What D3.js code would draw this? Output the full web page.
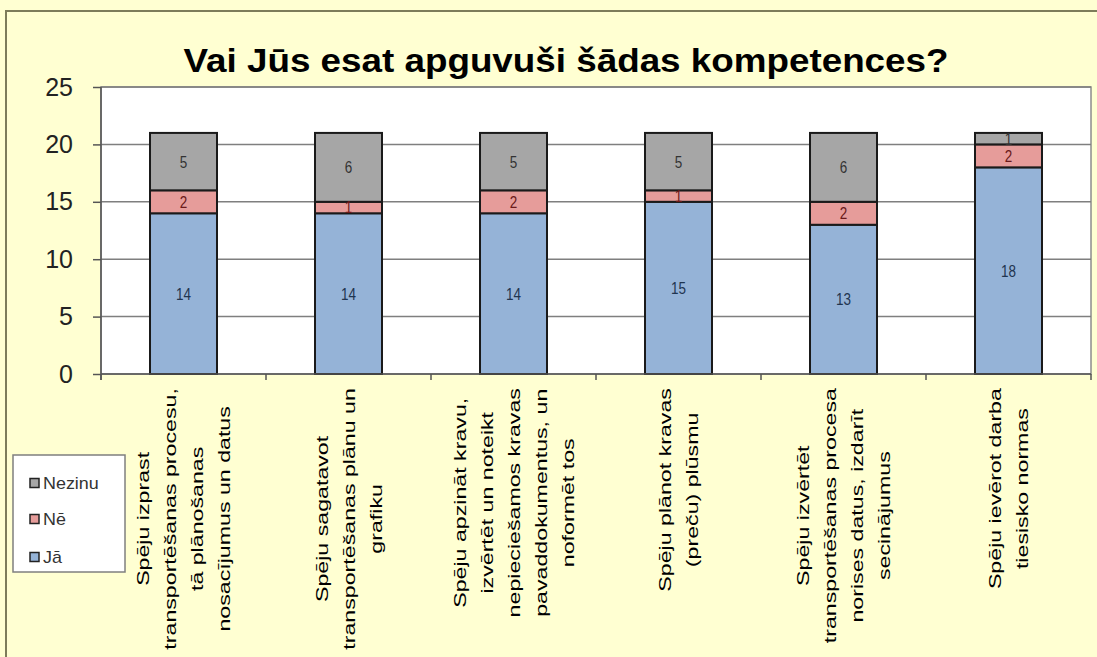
<!DOCTYPE html>
<html>
<head>
<meta charset="utf-8">
<script src="https://cdn.jsdelivr.net/npm/d3@7"></script>
<style>
  body { margin: 0; background: #fff; }
  text { font-family: Arial, "Liberation Sans", sans-serif; }
</style>
</head>
<body>
<div id="container"></div>
<script>
var categories = [
  ["Spēju izprast", "transportēšanas procesu,", "tā plānošanas", "nosacījumus un datus"],
  ["Spēju sagatavot", "transportēšanas plānu un", "grafiku"],
  ["Spēju apzināt kravu,", "izvērtēt un noteikt", "nepieciešamos kravas", "pavaddokumentus, un", "noformēt tos"],
  ["Spēju plānot kravas", "(preču)  plūsmu"],
  ["Spēju izvērtēt", "transportēšanas procesa", "norises datus, izdarīt", "secinājumus"],
  ["Spēju ievērot darba", "tiesisko normas"]
];
var ja = [14, 14, 14, 15, 13, 18];
var ne = [2, 1, 2, 1, 2, 2];
var nezinu = [5, 6, 5, 5, 6, 1];
var seriesNames = ["Jā", "Nē", "Nezinu"];
var yTicks = [0, 5, 10, 15, 20, 25];
var title = "Vai Jūs esat apguvuši šādas kompetences?";

var width = 1097,
    height = 657,
    margin = { left: 101, top: 87, right: 6, bottom: 283 },
    g_width = width - margin.left - margin.right,
    g_height = height - margin.top - margin.bottom;

var colors = { "Jā": "#95b3d7", "Nē": "#e69c9a", "Nezinu": "#a6a6a6" };
var labelColors = { "Jā": "#1f3550", "Nē": "#6b1a1a", "Nezinu": "#333333" };

var svg = d3.select('#container')
    .append('svg')
    .attr('width', width)
    .attr('height', height);

// background + outer frame
svg.append('rect').attr('width', width).attr('height', height).attr('fill', '#ffffd2');
svg.append('rect')
    .attr('x', 6).attr('y', 11)
    .attr('width', width + 10).attr('height', height + 10)
    .attr('fill', 'none').attr('stroke', '#7d7c5a').attr('stroke-width', 2);

// title
svg.append('text')
    .attr('x', 566).attr('y', 72)
    .attr('text-anchor', 'middle')
    .attr('font-size', 33)
    .attr('font-weight', 'bold')
    .attr('fill', '#000')
    .attr('textLength', 765)
    .attr('lengthAdjust', 'spacingAndGlyphs')
    .text(title);

var g = svg.append('g')
    .attr('transform', 'translate(' + margin.left + ',' + margin.top + ')');

// plot area
g.append('rect')
    .attr('width', g_width).attr('height', g_height)
    .attr('fill', '#fff').attr('stroke', '#8c8c8c').attr('stroke-width', 1.5);

var rows = categories.map(function (c, i) {
  return { idx: i, "Jā": ja[i], "Nē": ne[i], "Nezinu": nezinu[i] };
});

var scale_x = d3.scaleBand()
    .domain(d3.range(categories.length))
    .range([0, g_width])
    .paddingInner(0.594)
    .paddingOuter(0.297);

var scale_y = d3.scaleLinear()
    .domain([0, 25])
    .range([g_height, 0]);

// gridlines
g.selectAll('.grid')
    .data(yTicks.slice(1))
    .enter().append('line')
    .attr('x1', 0).attr('x2', g_width)
    .attr('y1', function (d) { return scale_y(d); })
    .attr('y2', function (d) { return scale_y(d); })
    .attr('stroke', '#7f7f7f').attr('stroke-width', 1.5);

// stacked bars
var stack = d3.stack().keys(seriesNames);
var layers = stack(rows);

var layer = g.selectAll('.layer')
    .data(layers)
    .enter().append('g')
    .attr('fill', function (d) { return colors[d.key]; });

layer.selectAll('rect')
    .data(function (d) { return d; })
    .enter().append('rect')
    .attr('x', function (d) { return scale_x(d.data.idx); })
    .attr('width', scale_x.bandwidth())
    .attr('y', function (d) { return scale_y(d[1]); })
    .attr('height', function (d) { return scale_y(d[0]) - scale_y(d[1]); })
    .attr('stroke', '#1a1a1a').attr('stroke-width', 2);

// value labels
layers.forEach(function (ly) {
  g.selectAll('.lbl-' + ly.index)
      .data(ly)
      .enter().append('text')
      .attr('transform', function (d) {
        var x = scale_x(d.data.idx) + scale_x.bandwidth() / 2;
        var y = (scale_y(d[0]) + scale_y(d[1])) / 2;
        return 'translate(' + x + ',' + y + ') scale(0.9,1.1)';
      })
      .attr('dy', '0.36em')
      .attr('text-anchor', 'middle')
      .attr('font-size', 15)
      .attr('fill', labelColors[ly.key])
      .text(function (d) { return d[1] - d[0]; });
});

// y axis
var y_axis = d3.axisLeft(scale_y).tickValues(yTicks).tickSize(8).tickPadding(20);
var ya = g.append('g').call(y_axis);
ya.select('.domain').attr('stroke', '#555').attr('stroke-width', 1.5).attr('d', 'M0,0V' + (g_height + 6));
ya.selectAll('.tick line').attr('stroke', '#555').attr('stroke-width', 1.5);
ya.selectAll('.tick text')
    .attr('font-size', 25).attr('fill', '#222')
    .attr('font-family', 'Arial, "Liberation Sans", sans-serif');

// x axis line + ticks at category boundaries
g.append('line')
    .attr('x1', 0).attr('x2', g_width)
    .attr('y1', g_height).attr('y2', g_height)
    .attr('stroke', '#555').attr('stroke-width', 1.5);
g.selectAll('.xtick')
    .data(d3.range(categories.length + 1))
    .enter().append('line')
    .attr('x1', function (i) { return i * scale_x.step(); })
    .attr('x2', function (i) { return i * scale_x.step(); })
    .attr('y1', g_height).attr('y2', g_height + 6)
    .attr('stroke', '#555').attr('stroke-width', 1.5);

// category labels, rotated (text is stretched along its length like the original)
var lineGap = 27, stretch = 1.45;
categories.forEach(function (lines, i) {
  var cx = scale_x(i) + scale_x.bandwidth() / 2;
  var lg = g.append('g');
  var texts = lines.map(function (t) {
    return lg.append('text')
        .attr('text-anchor', 'middle')
        .attr('font-size', 16)
        .attr('fill', '#000')
        .text(t);
  });
  var maxW = d3.max(texts, function (t) { return t.node().getComputedTextLength(); }) * stretch;
  var cy = g_height + 14 + maxW / 2;
  texts.forEach(function (t, j) {
    var lx = cx + (j - (lines.length - 1) / 2) * lineGap;
    t.attr('transform', 'translate(' + (lx + 6) + ',' + cy + ') rotate(-90) scale(' + stretch + ',1)');
  });
});

// legend
var legend = svg.append('g');
legend.append('rect')
    .attr('x', 13).attr('y', 455).attr('width', 112).attr('height', 117)
    .attr('fill', '#fff').attr('stroke', '#7f7f7f').attr('stroke-width', 1.5);
var legendItems = seriesNames.slice().reverse();
var legendY = [483, 519, 557];
legendItems.forEach(function (k, i) {
  legend.append('rect')
      .attr('x', 30).attr('y', legendY[i] - 4.5).attr('width', 9).attr('height', 9)
      .attr('fill', colors[k]).attr('stroke', '#222').attr('stroke-width', 1.5);
  legend.append('text')
      .attr('transform', 'translate(43,' + legendY[i] + ') scale(1.12,1)')
      .attr('dy', '0.35em')
      .attr('font-size', 16).attr('fill', '#333')
      .text(k);
});
</script>
</body>
</html>
